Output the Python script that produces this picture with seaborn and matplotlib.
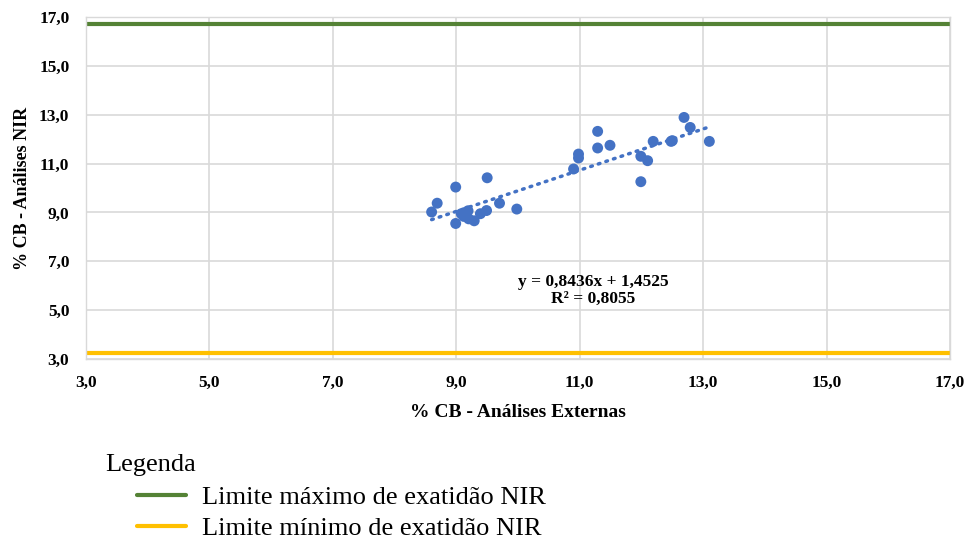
import numpy as np
import pandas as pd
import seaborn as sns
import matplotlib.pyplot as plt

# valores
x_ext = [8.60, 8.69, 8.99, 8.99, 9.08, 9.12, 9.19, 9.20, 9.29, 9.39, 9.49, 9.50, 9.70, 9.98,
         10.90, 10.98, 10.98, 11.29, 11.29, 11.49, 11.99, 11.99, 12.10, 12.19, 12.48, 12.50,
         12.69, 12.79, 13.10]
y_nir = [9.02, 9.38, 10.04, 8.55, 8.95, 8.84, 9.07, 8.74, 8.66, 8.95, 9.08, 10.42, 9.38, 9.14,
         10.78, 11.39, 11.23, 12.32, 11.64, 11.75, 10.26, 11.30, 11.12, 11.91, 11.91, 11.94,
         12.89, 12.48, 11.91]

lim_max = 16.7
lim_min = 3.25
slope = 0.8436
intercept = 1.4525
r2 = 0.8055

ticks = [3, 5, 7, 9, 11, 13, 15, 17]
tick_labels = ['3,0', '5,0', '7,0', '9,0', '11,0', '13,0', '15,0', '17,0']

df = pd.DataFrame({'Externas': x_ext, 'NIR': y_nir})

sns.set_style('whitegrid')
plt.rcParams['font.family'] = ['Liberation Serif', 'DejaVu Serif']
plt.rcParams['text.color'] = 'black'
plt.rcParams['axes.labelcolor'] = 'black'
plt.rcParams['xtick.color'] = 'black'
plt.rcParams['ytick.color'] = 'black'

fig = plt.figure(figsize=(9.7, 5.4), dpi=100)
ax = fig.add_axes([0.0887, 0.335, 0.8907, 0.6335])

sns.scatterplot(data=df, x='Externas', y='NIR', color='#4472C4', s=62,
                edgecolor='none', ax=ax, zorder=3)

# linha de tendência
xs = np.linspace(min(x_ext), max(x_ext), 50)
ax.plot(xs, slope * xs + intercept, ls=(0, (0.5, 1.8)), dash_capstyle='round',
        color='#4472C4', lw=2.5, zorder=2)

h1 = ax.axhline(lim_max, color='#548235', lw=3, label='Limite máximo de exatidão NIR')
h2 = ax.axhline(lim_min, color='#FFC000', lw=3, label='Limite mínimo de exatidão NIR')

ax.set_xlim(3, 17)
ax.set_ylim(3, 17)
ax.set_xticks(ticks)
ax.set_yticks(ticks)
ax.set_xticklabels(tick_labels, fontsize=12.5, fontweight='bold')
ax.set_yticklabels(tick_labels, fontsize=12.5, fontweight='bold')
ax.tick_params(axis='x', pad=11, length=0)
ax.tick_params(axis='y', pad=12, length=0)
ax.grid(color='#D9D9D9', lw=1.2)
for sp in ax.spines.values():
    sp.set_color('#D9D9D9')
    sp.set_linewidth(1)

ax.set_xlabel('% CB - Análises Externas', fontsize=14, fontweight='bold', labelpad=10)
ax.set_ylabel('% CB - Análises NIR', fontsize=13, fontweight='bold', labelpad=6)

ax.text(11.22, 5.82, f'y = {slope:.4f}x + {intercept:.4f}'.replace('.', ',') + '\n'
        + f'R² = {r2:.4f}'.replace('.', ','),
        ha='center', va='center', fontsize=12.5, fontweight='bold', linespacing=1.1)

# legenda
fig.text(105 / 970, 1 - 465 / 540, 'Legenda', fontsize=19, va='center', ha='left')
fig.legend(handles=[h1, h2], loc='upper left', bbox_to_anchor=(137 / 970, 1 - 486 / 540),
           frameon=False, fontsize=19, handlelength=1.85, handletextpad=0.6,
           labelspacing=0.28, borderpad=0, borderaxespad=0)

plt.savefig('out.png', dpi=100)
